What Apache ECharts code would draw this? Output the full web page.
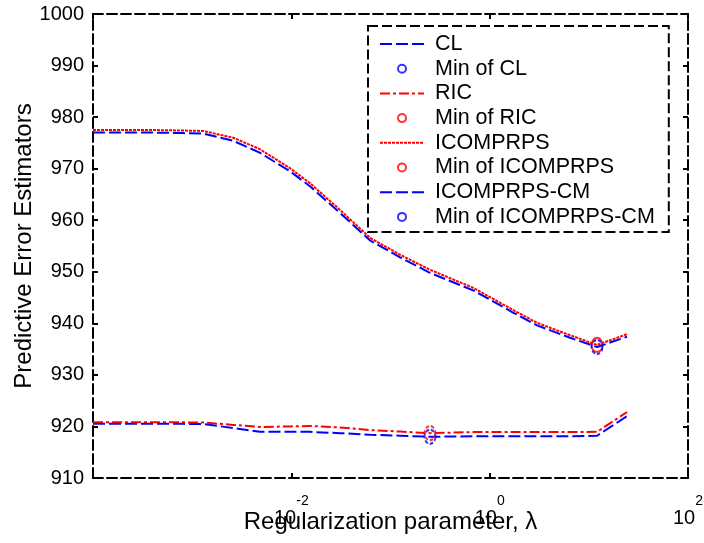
<!DOCTYPE html>
<html><head><meta charset="utf-8">
<script src="https://cdn.jsdelivr.net/npm/echarts@6/dist/echarts.min.js"></script>
<style>html,body{margin:0;padding:0;background:#fff}#c{width:704px;height:543px}</style>
</head><body><div id="c"></div>
<script>
// ---- data ----
const lambda = [1e-4, 2e-4, 4e-4, 8e-4, 0.0013, 0.0026, 0.0048, 0.0097, 0.0154, 0.031, 0.062, 0.125, 0.25, 0.68, 1.72, 3.0, 6.46, 12.1, 24.3];
const cl = [920.5, 920.5, 920.5, 920.5, 920.45, 919.7, 918.95, 918.95, 918.95, 918.7, 918.4, 918.2, 918.0, 918.1, 918.1, 918.1, 918.1, 918.2, 922.0];
const ric = [920.8, 920.8, 920.8, 920.8, 920.75, 920.3, 919.9, 920.0, 920.1, 919.8, 919.3, 919.0, 918.7, 918.9, 918.9, 918.9, 918.9, 918.95, 922.8];
const icomprps = [977.5, 977.5, 977.5, 977.4, 977.3, 976.0, 973.8, 970.1, 967.2, 962.0, 956.6, 953.3, 950.4, 946.9, 942.6, 940.1, 937.7, 935.8, 937.9];
const icomprpsCm = [977.0, 977.0, 977.0, 976.9, 976.8, 975.4, 973.1, 969.5, 966.6, 961.4, 956.1, 952.8, 949.8, 946.4, 942.1, 939.6, 937.2, 935.4, 937.4];
const seriesNames = ['CL', 'RIC', 'ICOMPRPS', 'ICOMPRPS-CM'];
const yMin = 910, yMax = 1000, yStep = 10;
const xMin = 1e-4, xMax = 1e2;
const xTitle = 'Regularization parameter, λ';
const yTitle = 'Predictive Error Estimators';

const FONT = '"Liberation Sans", Arial, sans-serif';
const BLUE = '#0000ff', RED = '#ff0000';

function pairs(vals) { return lambda.map((l, i) => [l, vals[i]]); }
function minPoint(vals) {
  let k = 0;
  vals.forEach((v, i) => { if (v < vals[k]) k = i; });
  return [[lambda[k], vals[k]]];
}
function lineSeries(name, vals, color, dash, z) {
  return { name, type: 'line', data: pairs(vals), symbol: 'none', showSymbol: false, z,
    lineStyle: { color, width: 2, type: dash }, itemStyle: { color } };
}
function minSeries(name, vals, color, dashed, z) {
  return { name, type: 'scatter', data: minPoint(vals), symbol: 'circle', symbolSize: [11, 14], z,
    itemStyle: { color: 'rgba(0,0,0,0)', borderColor: color, borderWidth: 2, borderType: dashed ? [4, 2] : 'solid' } };
}

const borderLine = { show: true, onZero: false, lineStyle: { color: '#000', width: 2, type: [10, 4] } };
const tick = { show: true, inside: true, length: 5, lineStyle: { color: '#000', width: 2 } };
const hideSym = { color: 'rgba(0,0,0,0)', borderWidth: 0, opacity: 0 };

const option = {
  animation: false,
  backgroundColor: '#fff',
  grid: { left: 93, right: 16, top: 14, bottom: 65, containLabel: false, outerBoundsMode: 'none' },
  xAxis: [
    { type: 'log', logBase: 100, min: xMin, max: xMax, splitNumber: 3, position: 'bottom',
      axisLine: borderLine, axisTick: tick, splitLine: { show: false }, minorTick: { show: false },
      axisLabel: { showMinLabel: false, margin: 16, color: '#000',
        formatter: v => '{b|10}{s|' + Math.round(Math.log10(v)) + '}',
        rich: { b: { fontSize: 20, lineHeight: 34, fontFamily: FONT, color: '#000', verticalAlign: 'bottom' },
                s: { fontSize: 14, fontFamily: FONT, color: '#000', verticalAlign: 'top' } } },
      name: xTitle, nameLocation: 'middle', nameGap: 32, nameMoveOverlap: false,
      nameTextStyle: { fontSize: 24, fontFamily: FONT, color: '#000' } },
    { type: 'log', logBase: 100, min: xMin, max: xMax, splitNumber: 3, position: 'top',
      axisLine: borderLine, axisTick: tick, splitLine: { show: false }, axisLabel: { show: false } }
  ],
  yAxis: [
    { type: 'value', min: yMin, max: yMax, interval: yStep, position: 'left',
      axisLine: borderLine, axisTick: tick, splitLine: { show: false },
      axisLabel: { margin: 9, fontSize: 20, fontFamily: FONT, color: '#000', formatter: v => String(v) },
      name: yTitle, nameLocation: 'middle', nameGap: 57, nameMoveOverlap: false,
      nameTextStyle: { fontSize: 24, fontFamily: FONT, color: '#000' } },
    { type: 'value', min: yMin, max: yMax, interval: yStep, position: 'right',
      axisLine: borderLine, axisTick: tick, splitLine: { show: false }, axisLabel: { show: false } }
  ],
  legend: {
    orient: 'vertical', left: 368, top: 26, padding: [7, 14, 4, 11],
    itemWidth: 44, itemHeight: 8, itemGap: 2.7,
    textStyle: { fontSize: 21.5, lineHeight: 20, fontFamily: FONT, color: '#000', padding: [0, 0, 0, 6] },
    backgroundColor: '#fff', borderColor: '#000', borderWidth: 2, borderType: [10, 4],
    data: [
      { name: seriesNames[0], itemStyle: hideSym }, 'Min of ' + seriesNames[0],
      { name: seriesNames[1], itemStyle: hideSym }, 'Min of ' + seriesNames[1],
      { name: seriesNames[2], itemStyle: hideSym }, 'Min of ' + seriesNames[2],
      { name: seriesNames[3], itemStyle: hideSym }, 'Min of ' + seriesNames[3]
    ]
  },
  series: [
    lineSeries(seriesNames[0], cl, BLUE, [12, 4], 2),
    minSeries('Min of ' + seriesNames[0], cl, BLUE, true, 5),
    lineSeries(seriesNames[1], ric, RED, [10, 3, 3, 3], 3),
    minSeries('Min of ' + seriesNames[1], ric, RED, true, 5),
    lineSeries(seriesNames[2], icomprps, RED, [3, 1], 3),
    minSeries('Min of ' + seriesNames[2], icomprps, RED, false, 5),
    lineSeries(seriesNames[3], icomprpsCm, BLUE, [12, 4], 2),
    minSeries('Min of ' + seriesNames[3], icomprpsCm, BLUE, true, 6)
  ]
};
const chart = echarts.init(document.getElementById('c'), null, { renderer: 'canvas' });
chart.setOption(option);
</script>
</body></html>
